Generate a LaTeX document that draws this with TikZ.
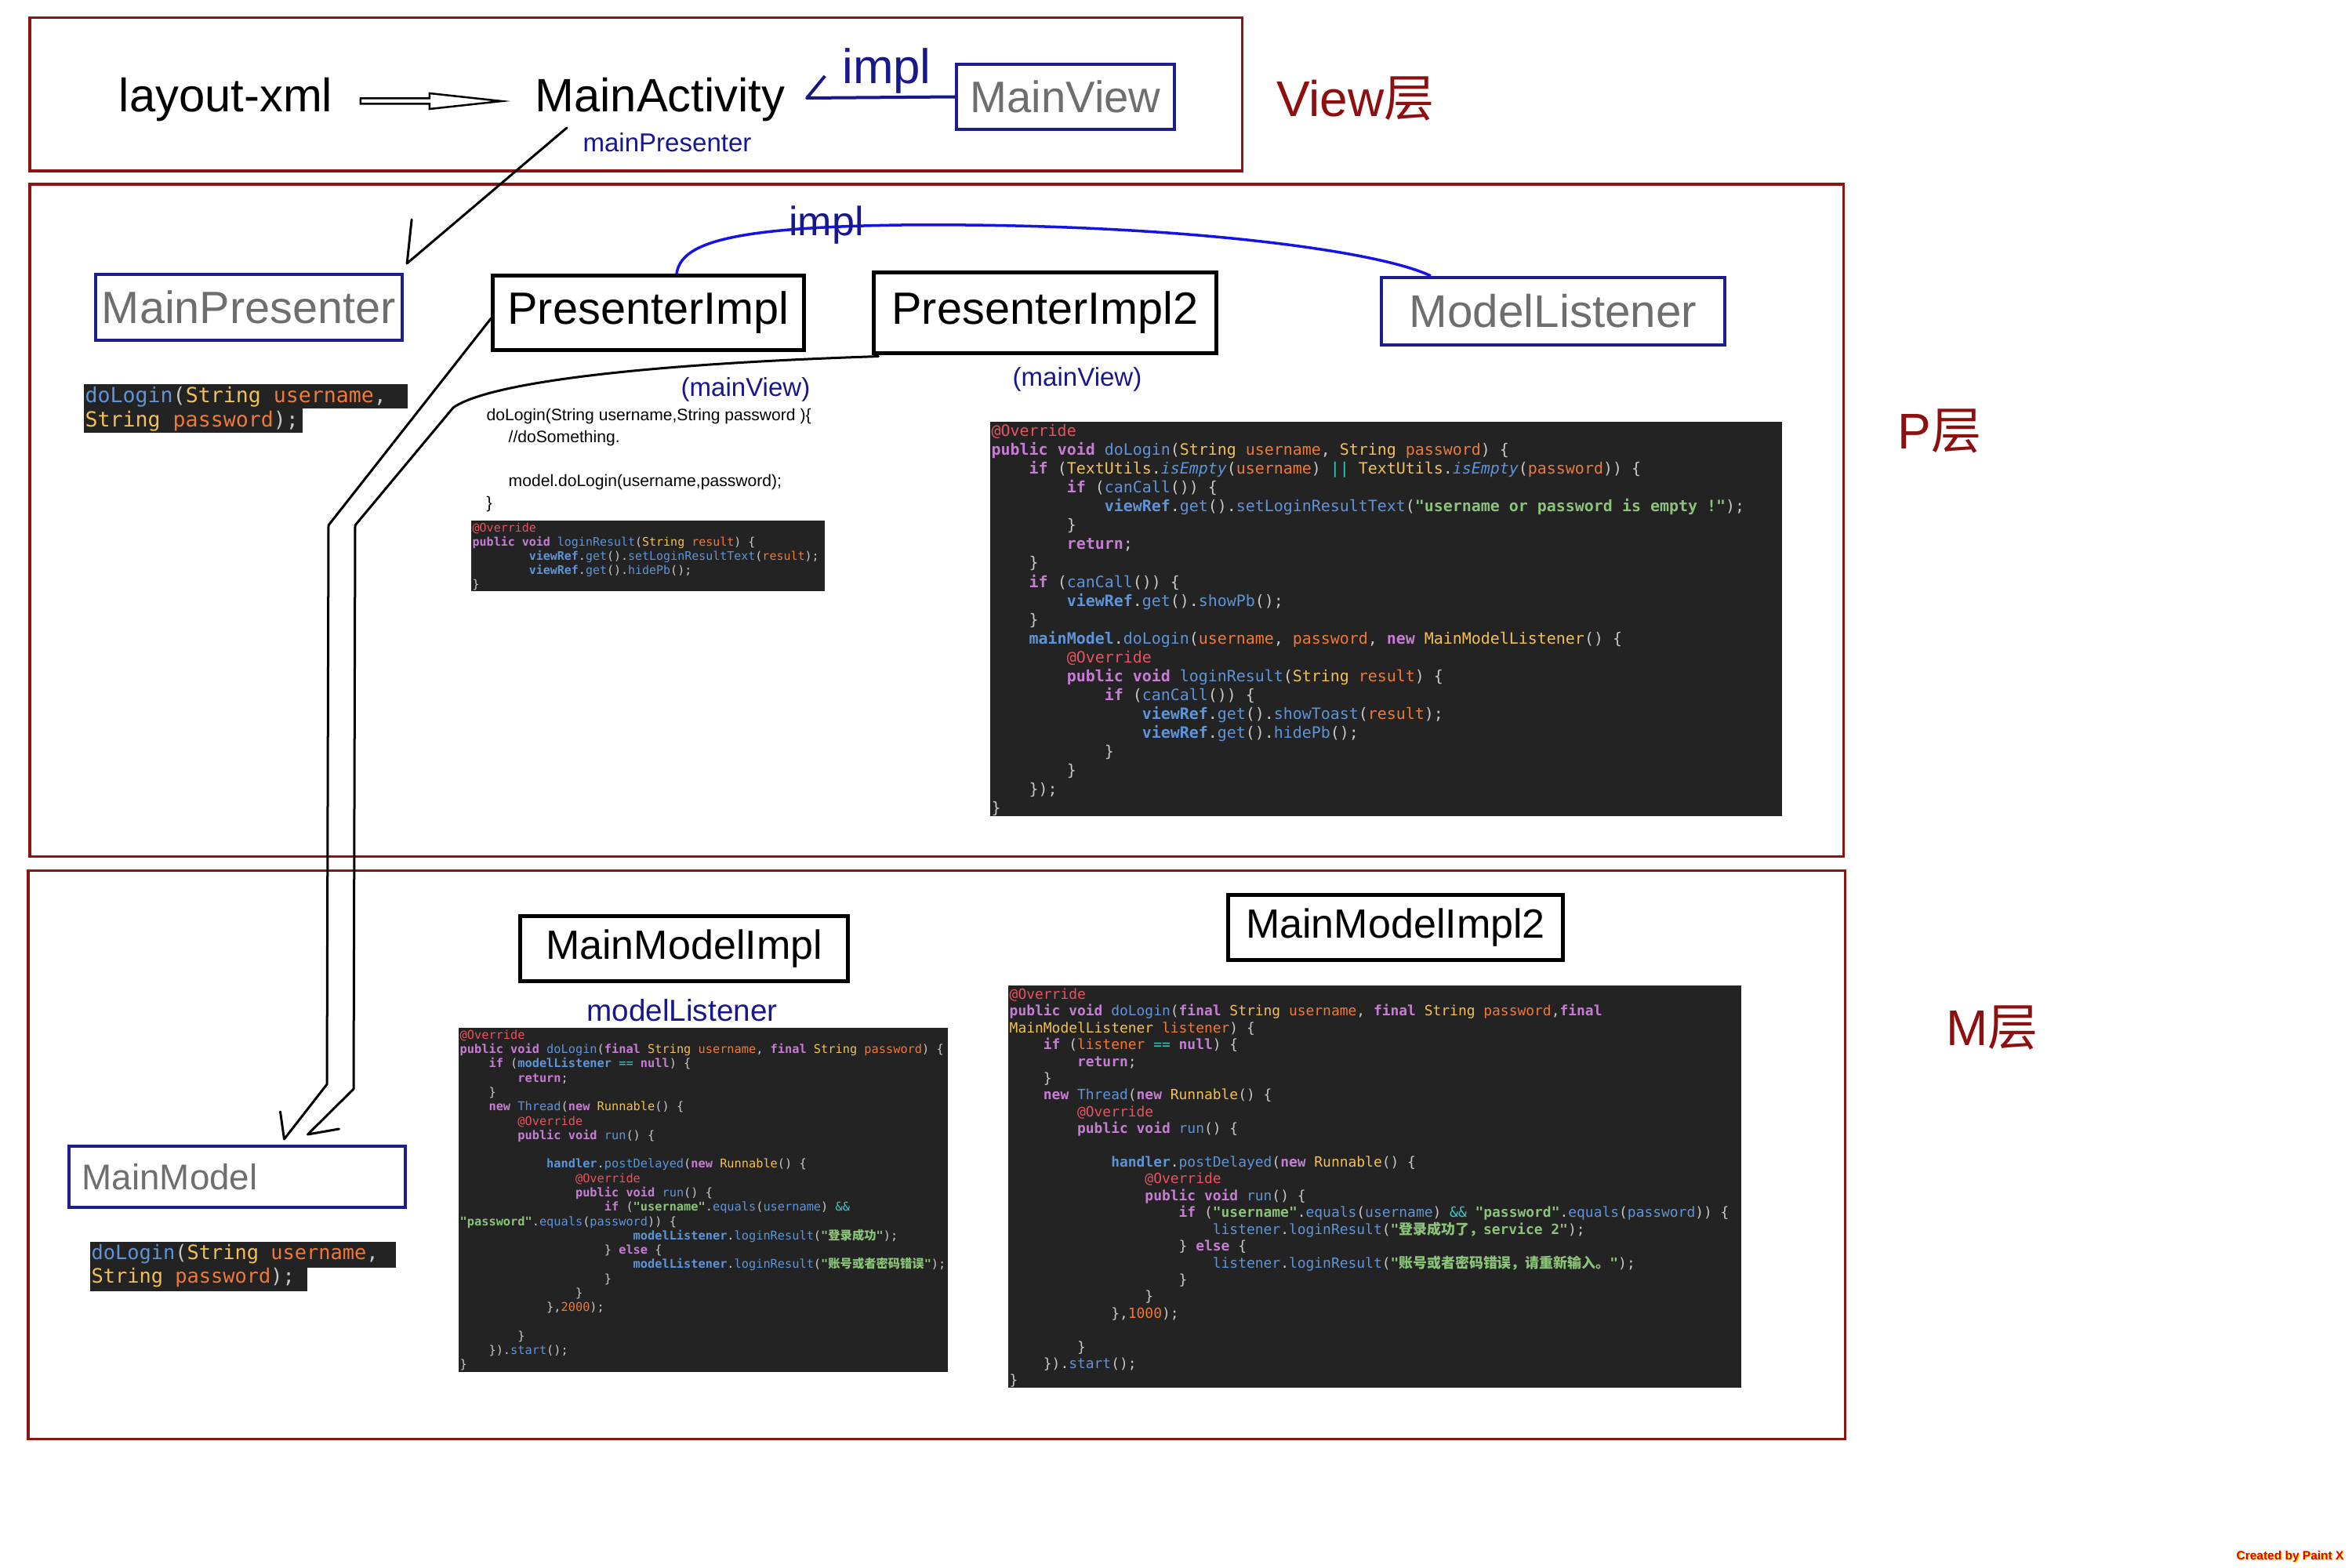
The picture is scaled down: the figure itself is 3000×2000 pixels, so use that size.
\documentclass[tikz,border=0pt]{standalone}
\usepackage{fontspec}
\setmainfont{Liberation Sans}
\setmonofont{DejaVu Sans Mono}
\newfontfamily\cjk{Noto Sans CJK SC}

\definecolor{framered}{HTML}{8B1515}
\definecolor{layerred}{HTML}{8E0F0F}
\definecolor{boxnavy}{HTML}{1D1D8E}
\definecolor{labelnavy}{HTML}{18188C}
\definecolor{labelgray}{HTML}{6E6E6E}
\definecolor{curveblue}{HTML}{1414E6}
\definecolor{codebg}{HTML}{232323}
\definecolor{cplain}{HTML}{C8C8C8}
\definecolor{cann}{HTML}{E8535F}
\definecolor{ckw}{HTML}{C77DD4}
\definecolor{cfn}{HTML}{5E94D8}
\definecolor{cty}{HTML}{F2C055}
\definecolor{cpar}{HTML}{F0793A}
\definecolor{cstr}{HTML}{8CC37A}
\definecolor{cop}{HTML}{3CC8C8}
\definecolor{wmred}{HTML}{E00000}
\definecolor{wmyellow}{HTML}{FFE000}

\newcommand\fsz[2]{\fontsize{#1}{#2}\selectfont}
\newcommand\ind[1]{\hspace*{#1\fontcharwd\font`\x}}
\newcommand\cA[1]{\textcolor{cann}{#1}}
\newcommand\cK[1]{\textcolor{ckw}{\bfseries #1}}
\newcommand\cF[1]{\textcolor{cfn}{#1}}
\newcommand\cI[1]{\textcolor{cfn}{\bfseries #1}}
\newcommand\cT[1]{\textcolor{cty}{#1}}
\newcommand\cP[1]{\textcolor{cpar}{#1}}
\newcommand\cS[1]{\textcolor{cstr}{\bfseries #1}}
\newcommand\cO[1]{\textcolor{cop}{#1}}

\tikzset{
  layerframe/.style={draw=framered, line width=0.03cm},
  layerlbl/.style={text=layerred, font=\fsz{18.2}{21}, anchor=base, inner sep=0},
  navybox/.style={draw=boxnavy, line width=0.04cm, text=labelgray, inner sep=0},
  blackbox/.style={draw=black, line width=0.05cm, inner sep=0},
  navylbl/.style={text=labelnavy, anchor=base, inner sep=0},
  plainlbl/.style={anchor=base, inner sep=0, font=\fsz{17}{20}},
  codetxt/.style={anchor=north west, inner sep=0, align=left, text=cplain},
  link/.style={line width=0.03cm, line join=round, line cap=round},
  navyline/.style={draw=labelnavy, line width=0.04cm, line join=round},
  implcurve/.style={draw=curveblue, line width=0.035cm},
}

\begin{document}
\begin{tikzpicture}[x=0.01cm, y=-0.01cm]
  \useasboundingbox (0,0) rectangle (3000,2000);

  % --- layer frames ---
  \draw[layerframe] (38,23) rectangle (1584,218);
  \draw[layerframe] (38,235) rectangle (2351,1092);
  \draw[layerframe] (36,1110) rectangle (2353,1835);

  % --- view layer ---
  \node[plainlbl] (layout) at (288,143) {layout-xml};
  \node[plainlbl] (act) at (842,143) {MainActivity};
  \node[navybox, minimum width=2.78cm, minimum height=0.83cm, font=\fsz{16}{19}] (mview) at (1359,123.5) {MainView};
  \node[navylbl, font=\fsz{17.6}{20}] (impltop) at (1131,107) {impl};
  \node[navylbl, font=\fsz{9.4}{11}] (mpres) at (851,193) {mainPresenter};
  \node[layerlbl] (vlbl) at (1729,149) {View{\cjk 层}};

  % --- presenter layer ---
  \node[navybox, minimum width=3.91cm, minimum height=0.84cm, font=\fsz{16.4}{19}] (pres) at (317.5,392) {MainPresenter};
  \node[blackbox, minimum width=3.96cm, minimum height=0.94cm, font=\fsz{16.4}{19}] (pimpl) at (827,399) {PresenterImpl};
  \node[blackbox, minimum width=4.36cm, minimum height=1.02cm, font=\fsz{16.4}{19}] (pimpl2) at (1333,399) {PresenterImpl2};
  \node[navybox, minimum width=4.38cm, minimum height=0.86cm, font=\fsz{16.6}{19}] (mlis) at (1981,397) {ModelListener};
  \node[navylbl, font=\fsz{9.4}{11}] (mview1) at (951,505) {(mainView)};
  \node[navylbl, font=\fsz{9.4}{11}] (mview2) at (1374,492) {(mainView)};
  \node[layerlbl] (plbl) at (2474,572) {P{\cjk 层}};

  % --- PresenterImpl -> ModelListener (impl) ---
  \draw[implcurve] ([xshift=0.36cm]pimpl.north) .. controls (868,310) and (930,290) .. (1150,287)
    .. controls (1500,284) and (1760,320) .. ([xshift=0.65cm]mlis.north west);
  \node[navylbl, font=\fsz{14.8}{17}] (implmid) at (1054,300) {impl};

  \node[anchor=north west, inner sep=0, align=left, font=\fsz{6}{8}] (dotxt) at (620,520)
    {doLogin(String username,String password )\{\\
     \hspace*{0.28cm}//doSomething.\\[0.28cm]
     \hspace*{0.28cm}model.doLogin(username,password);\\
     \}};

  \fill[codebg] (107,490) rectangle (520,521);
  \fill[codebg] (107,521) rectangle (386,552);
  \node[codetxt, font=\ttfamily\fsz{7.56}{8.8}] (psig) at (108,493)
    {\cF{doLogin}(\cT{String} \cP{username},\\
     \cT{String} \cP{password});};

  \fill[codebg] (601,664) rectangle (1052,754);
  \node[codetxt, font=\ttfamily\fsz{4.26}{5.12}] (lrcode) at (602,666)
    {\cA{@Override}\\
     \cK{public} \cK{void} \cF{loginResult}(\cT{String} \cP{result}) \{\\
     \ind{8}\cI{viewRef}.\cF{get}().\cF{setLoginResultText}(\cP{result});\\
     \ind{8}\cI{viewRef}.\cF{get}().\cF{hidePb}();\\
     \}};

  \fill[codebg] (1263,538) rectangle (2273,1041);
  \node[codetxt, font=\ttfamily\fsz{5.67}{6.83}] (pcode) at (1264,541)
    {\cA{@Override}\\
     \cK{public} \cK{void} \cF{doLogin}(\cT{String} \cP{username}, \cT{String} \cP{password}) \{\\
     \ind{4}\cK{if} (\cT{TextUtils}.\cF{\itshape isEmpty}(\cP{username}) \cO{||} \cT{TextUtils}.\cF{\itshape isEmpty}(\cP{password})) \{\\
     \ind{8}\cK{if} (\cF{canCall}()) \{\\
     \ind{12}\cI{viewRef}.\cF{get}().\cF{setLoginResultText}(\cS{"username or password is empty !"});\\
     \ind{8}\}\\
     \ind{8}\cK{return};\\
     \ind{4}\}\\
     \ind{4}\cK{if} (\cF{canCall}()) \{\\
     \ind{8}\cI{viewRef}.\cF{get}().\cF{showPb}();\\
     \ind{4}\}\\
     \ind{4}\cI{mainModel}.\cF{doLogin}(\cP{username}, \cP{password}, \cK{new} \cT{MainModelListener}() \{\\
     \ind{8}\cA{@Override}\\
     \ind{8}\cK{public} \cK{void} \cF{loginResult}(\cT{String} \cP{result}) \{\\
     \ind{12}\cK{if} (\cF{canCall}()) \{\\
     \ind{16}\cI{viewRef}.\cF{get}().\cF{showToast}(\cP{result});\\
     \ind{16}\cI{viewRef}.\cF{get}().\cF{hidePb}();\\
     \ind{12}\}\\
     \ind{8}\}\\
     \ind{4}\});\\
     \}};

  % --- model layer ---
  \node[blackbox, minimum width=4.17cm, minimum height=0.82cm, font=\fsz{14.8}{17}] (mimpl) at (872.5,1210) {MainModelImpl};
  \node[blackbox, minimum width=4.26cm, minimum height=0.82cm, font=\fsz{14.8}{17}] (mimpl2) at (1780,1183) {MainModelImpl2};
  \node[navylbl, font=\fsz{11}{13}] (mlsn) at (870,1302) {modelListener};
  \node[navybox, minimum height=0.78cm, text width=3.95cm, inner xsep=0.17cm, align=left, font=\fsz{13}{15}] (mmodel) at (302.5,1501) {MainModel};
  \node[layerlbl] (mlbl) at (2541,1333) {M{\cjk 层}};

  \fill[codebg] (115,1584) rectangle (505,1617);
  \fill[codebg] (115,1617) rectangle (392,1647);
  \node[codetxt, font=\ttfamily\fsz{7.2}{8.5}] (msig) at (116,1587)
    {\cF{doLogin}(\cT{String} \cP{username},\\
     \cT{String} \cP{password});};

  \fill[codebg] (585,1311) rectangle (1209,1750);
  \node[codetxt, font=\ttfamily\fsz{4.35}{5.2}] (mcode) at (586,1313)
    {\cA{@Override}\\
     \cK{public} \cK{void} \cF{doLogin}(\cK{final} \cT{String} \cP{username}, \cK{final} \cT{String} \cP{password}) \{\\
     \ind{4}\cK{if} (\cI{modelListener} \cO{==} \cK{null}) \{\\
     \ind{8}\cK{return};\\
     \ind{4}\}\\
     \ind{4}\cK{new} \cF{Thread}(\cK{new} \cT{Runnable}() \{\\
     \ind{8}\cA{@Override}\\
     \ind{8}\cK{public} \cK{void} \cF{run}() \{\\
     \mbox{}\\
     \ind{12}\cI{handler}.\cF{postDelayed}(\cK{new} \cT{Runnable}() \{\\
     \ind{16}\cA{@Override}\\
     \ind{16}\cK{public} \cK{void} \cF{run}() \{\\
     \ind{20}\cK{if} (\cS{"username"}.\cF{equals}(\cF{username}) \cO{\&\&}\\
     \cS{"password"}.\cF{equals}(\cF{password})) \{\\
     \ind{24}\cI{modelListener}.\cF{loginResult}(\cS{"{\cjk 登录成功}"});\\
     \ind{20}\} \cK{else} \{\\
     \ind{24}\cI{modelListener}.\cF{loginResult}(\cS{"{\cjk 账号或者密码错误}"});\\
     \ind{20}\}\\
     \ind{16}\}\\
     \ind{12}\},\textcolor{cpar}{2000});\\
     \mbox{}\\
     \ind{8}\}\\
     \ind{4}\}).\cF{start}();\\
     \}};

  \fill[codebg] (1286,1257) rectangle (2221,1770);
  \node[codetxt, font=\ttfamily\fsz{5.1}{6.09}] (mcode2) at (1287,1260)
    {\cA{@Override}\\
     \cK{public} \cK{void} \cF{doLogin}(\cK{final} \cT{String} \cP{username}, \cK{final} \cT{String} \cP{password},\cK{final}\\
     \cT{MainModelListener} \cP{listener}) \{\\
     \ind{4}\cK{if} (\cP{listener} \cO{==} \cK{null}) \{\\
     \ind{8}\cK{return};\\
     \ind{4}\}\\
     \ind{4}\cK{new} \cF{Thread}(\cK{new} \cT{Runnable}() \{\\
     \ind{8}\cA{@Override}\\
     \ind{8}\cK{public} \cK{void} \cF{run}() \{\\
     \mbox{}\\
     \ind{12}\cI{handler}.\cF{postDelayed}(\cK{new} \cT{Runnable}() \{\\
     \ind{16}\cA{@Override}\\
     \ind{16}\cK{public} \cK{void} \cF{run}() \{\\
     \ind{20}\cK{if} (\cS{"username"}.\cF{equals}(\cF{username}) \cO{\&\&} \cS{"password"}.\cF{equals}(\cF{password})) \{\\
     \ind{24}\cF{listener}.\cF{loginResult}(\cS{"{\cjk 登录成功了，}service 2"});\\
     \ind{20}\} \cK{else} \{\\
     \ind{24}\cF{listener}.\cF{loginResult}(\cS{"{\cjk 账号或者密码错误，请重新输入。}"});\\
     \ind{20}\}\\
     \ind{16}\}\\
     \ind{12}\},\textcolor{cpar}{1000});\\
     \mbox{}\\
     \ind{8}\}\\
     \ind{4}\}).\cF{start}();\\
     \}};

  % --- layout-xml => MainActivity ---
  \coordinate (da) at ([shift={(35,-14)}]layout.base east);
  \coordinate (db) at ([shift={(-42,-14)}]act.base west);
  \draw[line width=0.025cm, line join=miter] ([shift={(0,-3.5)}]da) -- ([shift={(-92,-3.5)}]db)
    -- ([shift={(-92,-10)}]db) -- (db) -- ([shift={(-92,10)}]db)
    -- ([shift={(-92,3.5)}]db) -- ([shift={(0,3.5)}]da) -- cycle;

  % --- MainView -> MainActivity (impl) ---
  \draw[navyline] (mview.west) -- ([shift={(27,-18)}]act.base east) -- ++(23,-28);

  % --- MainActivity -> MainPresenter ---
  \draw[link] ([shift={(-119,20)}]act.base) -- ([shift={(4,-12)}]pres.north east) -- ++(6,-56);

  % --- presenters -> MainModel ---
  \draw[link] ([shift={(0,7)}]pimpl.west) -- (419,670) -- (417,1383)
    -- ([shift={(60,-7)}]mmodel.north) -- ++(-5,-35);
  \draw[link] ([shift={(8,2)}]pimpl2.south west) .. controls (800,465) and (620,490) .. (578,520)
    -- (453,670) -- (451,1389) -- ([shift={(90,-13)}]mmodel.north) -- ++(40,-7);

  % --- watermark ---
  \node[font=\bfseries\fsz{4.4}{5}, text=wmyellow, inner sep=0] (wmshade) at (2922.5,1986.5) {Created by Paint X};
  \node[font=\bfseries\fsz{4.4}{5}, text=wmred, inner sep=0] (wm) at (2921,1985) {Created by Paint X};

\end{tikzpicture}
\end{document}
